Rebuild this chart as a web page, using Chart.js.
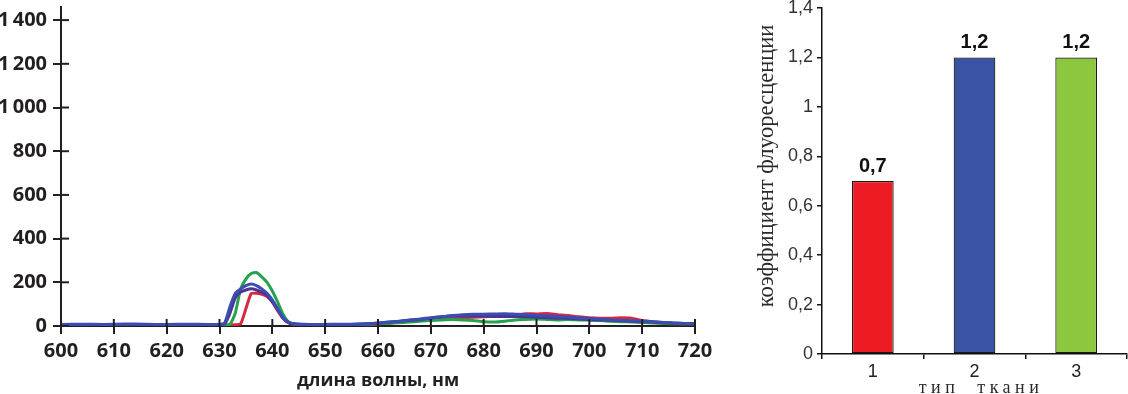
<!DOCTYPE html>
<html>
<head>
<meta charset="utf-8">
<script src="https://cdn.jsdelivr.net/npm/chart.js@4"></script>
<style>
  html, body { margin: 0; padding: 0; background: #fff; }
  body { width: 1128px; height: 394px; position: relative; overflow: hidden; }
  #spectrum { position: absolute; left: 0; top: 0; }
  #bars { position: absolute; left: 730px; top: 0; }
</style>
</head>
<body>
<canvas id="spectrum" width="720" height="394"></canvas>
<canvas id="bars" width="398" height="394"></canvas>
<script>
// ---------- Left chart: fluorescence spectra ----------
const wavelengths = [600,604,608,612,616,620,624,628,
  630,631,632,633,634,635,636,637,638,639,640,641,642,643,644,
  646,648,650,652,654,656,658,660,662,664,666,668,670,672,674,676,678,680,682,684,686,688,690,692,694,696,698,700,702,704,706,708,710,712,714,716,718,720];

const seriesBlue = [7,8,7,9,8,7,8,7,
  8,15,90,150,170,185,192,185,170,150,120,80,40,18,10,
  8,7,7,8,8,9,10,14,18,22,28,32,38,42,48,52,54,54,55,56,54,52,48,46,44,40,38,34,32,28,26,24,22,20,16,14,12,12];

const seriesPurple = [6,6,7,6,7,6,6,7,
  7,10,60,130,155,165,170,165,155,140,110,75,38,16,9,
  7,6,6,7,7,8,10,13,17,21,26,30,36,42,46,46,46,45,44,44,43,42,40,38,36,34,32,30,28,26,24,22,20,18,15,13,12,11];

const seriesGreen = [4,5,4,5,4,5,4,5,
  5,5,8,60,170,215,240,245,225,200,160,110,55,20,10,
  6,5,5,5,5,6,8,10,12,15,18,22,25,28,30,28,25,20,18,22,28,30,32,30,28,30,28,26,25,22,20,18,16,14,12,10,10,10];

const seriesRed = [5,6,5,7,6,5,6,5,
  5,5,5,6,10,80,148,150,145,135,110,70,35,15,8,
  6,5,5,5,6,6,8,10,14,18,22,26,30,33,36,38,40,42,44,46,48,56,55,57,52,48,42,38,36,36,38,36,25,20,15,12,10,10];

const spectrumXTicks = [600,610,620,630,640,650,660,670,680,690,700,710,720];
const spectrumXTickLabels = ['600','610','620','630','640','650','660','670','680','690','700','710','720'];
const spectrumYTicks = [0,200,400,600,800,1000,1200,1400];
const spectrumYTickLabels = ['0','200','400','600','800','1\u2009000','1\u2009200','1\u2009400'];
const spectrumXTitle = 'длина волны, нм';

// ---------- Right chart: fluorescence coefficient ----------
const tissueTypes = ['1','2','3'];
const coefficients = [0.7, 1.2, 1.2];
const coefficientLabels = ['0,7','1,2','1,2'];
const barYTicks = [0,0.2,0.4,0.6,0.8,1,1.2,1.4];
const barYTickLabels = ['0','0,2','0,4','0,6','0,8','1','1,2','1,4'];
const barYTitle = 'коэффициент флуоресценции';
const barXTitle = 'тип  ткани';

const axisDark = '#231f20';

function pts(vals) { return wavelengths.map((w, i) => ({ x: w, y: vals[i] })); }
function noPad(s) { s.paddingTop = 0; s.paddingBottom = 0; s.paddingLeft = 0; s.paddingRight = 0; }

// crossing tick marks (inner half) for the spectrum chart
const innerTicks = {
  id: 'innerTicks',
  afterDraw(chart) {
    const ctx = chart.ctx, a = chart.chartArea;
    ctx.save();
    ctx.strokeStyle = axisDark;
    ctx.lineWidth = 2;
    const xs = chart.scales.x, ys = chart.scales.y;
    xs.ticks.forEach(t => {
      const px = xs.getPixelForValue(t.value);
      ctx.beginPath(); ctx.moveTo(px, a.bottom); ctx.lineTo(px, a.bottom - 7); ctx.stroke();
    });
    ys.ticks.forEach(t => {
      const py = ys.getPixelForValue(t.value);
      ctx.beginPath(); ctx.moveTo(a.left, py); ctx.lineTo(a.left + 8, py); ctx.stroke();
    });
    ctx.restore();
  }
};

new Chart(document.getElementById('spectrum'), {
  type: 'line',
  data: {
    datasets: [
      { data: pts(seriesBlue), borderColor: '#3a4db3', order: 0 },
      { data: pts(seriesPurple), borderColor: '#4b3592', order: 1 },
      { data: pts(seriesGreen), borderColor: '#25a24e', order: 2 },
      { data: pts(seriesRed), borderColor: '#d8283f', order: 3 }
    ]
  },
  options: {
    responsive: false,
    devicePixelRatio: 1,
    animation: false,
    layout: { padding: { top: 7, right: 25, left: 0, bottom: 0 } },
    elements: { point: { radius: 0 }, line: { borderWidth: 3, tension: 0.2 } },
    plugins: { legend: { display: false }, tooltip: { enabled: false } },
    scales: {
      x: {
        type: 'linear', min: 600, max: 720,
        afterBuildTicks: s => { s.ticks = spectrumXTicks.map(v => ({ value: v })); },
        afterFit: s => { s.height = 68; noPad(s); },
        ticks: {
          callback: (v, i) => spectrumXTickLabels[i],
          color: axisDark, padding: 5, maxRotation: 0,
          font: { family: 'Open Sans', size: 20, weight: 'bold' }
        },
        grid: { drawOnChartArea: false, color: axisDark, lineWidth: 2, tickLength: 8 },
        border: { color: axisDark, width: 2 },
        title: {
          display: true, text: spectrumXTitle, color: axisDark,
          font: { family: 'Open Sans', size: 18, weight: 'bold' },
          padding: { top: 0, bottom: 2 }
        }
      },
      y: {
        min: 0, max: 1460,
        afterBuildTicks: s => { s.ticks = spectrumYTicks.map(v => ({ value: v })); },
        afterFit: s => { s.width = 61; noPad(s); },
        ticks: {
          callback: (v, i) => spectrumYTickLabels[i],
          color: axisDark, padding: 6,
          font: { family: 'Open Sans', size: 20, weight: 'bold' }
        },
        grid: { drawOnChartArea: false, color: axisDark, lineWidth: 2, tickLength: 8 },
        border: { color: axisDark, width: 2 }
      }
    }
  },
  plugins: [innerTicks]
});

// bar value labels + custom titles
const barExtras = {
  id: 'barExtras',
  afterDatasetsDraw(chart) {
    const ctx = chart.ctx;
    const meta = chart.getDatasetMeta(0);
    ctx.save();
    ctx.fillStyle = '#111';
    ctx.font = 'bold 20px "Liberation Sans", Arial, sans-serif';
    ctx.textAlign = 'center';
    ctx.textBaseline = 'alphabetic';
    meta.data.forEach((bar, i) => {
      ctx.fillText(coefficientLabels[i], bar.x, bar.y - 9);
    });
    ctx.restore();
  },
  afterDraw(chart) {
    const ctx = chart.ctx;
    ctx.save();
    ctx.fillStyle = '#2a2a2a';
    ctx.font = '22.5px "Liberation Serif", "Times New Roman", serif';
    ctx.textAlign = 'center';
    ctx.textBaseline = 'middle';
    ctx.translate(37, 166);
    ctx.rotate(-Math.PI / 2);
    ctx.fillText(barYTitle, 0, 0);
    ctx.restore();

    ctx.save();
    ctx.fillStyle = '#2a2a2a';
    ctx.font = '18px "Liberation Serif", "Times New Roman", serif';
    ctx.textAlign = 'center';
    ctx.textBaseline = 'middle';
    ctx.letterSpacing = '4.5px';
    ctx.fillText(barXTitle, 251, 388);
    ctx.restore();
  }
};

new Chart(document.getElementById('bars'), {
  type: 'bar',
  data: {
    labels: tissueTypes,
    datasets: [{
      data: coefficients,
      backgroundColor: ['#ed1c24', '#3a53a4', '#8dc63f'],
      borderColor: '#1a1a1a',
      borderWidth: 1.2,
      borderSkipped: false,
      barPercentage: 0.41,
      categoryPercentage: 1
    }]
  },
  options: {
    responsive: false,
    devicePixelRatio: 1,
    animation: false,
    layout: { padding: { top: 8, right: 1, left: 0, bottom: 0 } },
    plugins: { legend: { display: false }, tooltip: { enabled: false } },
    scales: {
      x: {
        afterFit: s => { s.height = 40; noPad(s); },
        ticks: {
          color: '#222', padding: 2,
          font: { family: 'Liberation Sans', size: 18 }
        },
        grid: { drawOnChartArea: false, offset: true, color: '#111', lineWidth: 1.5, tickLength: 5 },
        border: { color: '#111', width: 1.5 }
      },
      y: {
        min: 0, max: 1.4,
        afterBuildTicks: s => { s.ticks = barYTicks.map(v => ({ value: v })); },
        afterFit: s => { s.width = 92; noPad(s); },
        ticks: {
          callback: (v, i) => barYTickLabels[i],
          color: '#333', padding: 4,
          font: { family: 'Liberation Sans', size: 18 }
        },
        grid: { drawOnChartArea: false, color: '#111', lineWidth: 1.5, tickLength: 5 },
        border: { color: '#111', width: 1.5 }
      }
    }
  },
  plugins: [barExtras]
});
</script>
</body>
</html>
